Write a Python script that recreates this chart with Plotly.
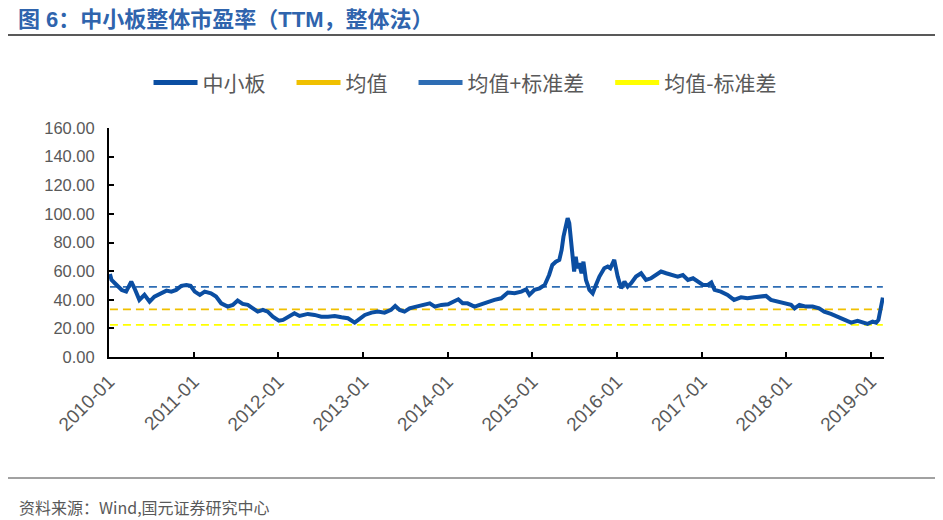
import plotly.graph_objects as go

# ---- data ----
dates = [
    "2010-01-05", "2010-01-12", "2010-02-03", "2010-02-25", "2010-03-16", "2010-04-07",
    "2010-04-21", "2010-05-12", "2010-06-03", "2010-06-25", "2010-07-16", "2010-08-15",
    "2010-09-06", "2010-09-27", "2010-10-18", "2010-11-09", "2010-12-01", "2010-12-19",
    "2011-01-06", "2011-01-28", "2011-02-18", "2011-03-17", "2011-04-08", "2011-04-30",
    "2011-05-28", "2011-06-19", "2011-07-10", "2011-08-01", "2011-08-23", "2011-09-14",
    "2011-10-05", "2011-10-27", "2011-11-17", "2011-12-09", "2012-01-04", "2012-01-22",
    "2012-02-13", "2012-03-11", "2012-04-02", "2012-04-24", "2012-05-08", "2012-06-06",
    "2012-07-05", "2012-08-03", "2012-09-01", "2012-09-30", "2012-10-28", "2012-11-26",
    "2012-12-18", "2013-01-09", "2013-02-07", "2013-03-06", "2013-04-04", "2013-05-02",
    "2013-05-20", "2013-06-08", "2013-06-29", "2013-07-21", "2013-08-19", "2013-09-17",
    "2013-10-16", "2013-11-07", "2013-12-05", "2014-01-03", "2014-01-25", "2014-02-16",
    "2014-03-07", "2014-03-28", "2014-04-27", "2014-05-26", "2014-06-23", "2014-07-22",
    "2014-08-20", "2014-09-18", "2014-10-17", "2014-11-15", "2014-12-06", "2014-12-20",
    "2015-01-11", "2015-02-02", "2015-02-24", "2015-03-15", "2015-03-29", "2015-04-13",
    "2015-04-28", "2015-05-08", "2015-05-16", "2015-05-27", "2015-06-03", "2015-06-10",
    "2015-06-17", "2015-06-24", "2015-07-01", "2015-07-08", "2015-07-15", "2015-07-22",
    "2015-08-02", "2015-08-10", "2015-08-21", "2015-09-05", "2015-09-19", "2015-10-03",
    "2015-10-18", "2015-11-08", "2015-11-23", "2015-12-04", "2015-12-21", "2016-01-05",
    "2016-01-20", "2016-02-03", "2016-02-17", "2016-03-03", "2016-03-24", "2016-04-15",
    "2016-05-06", "2016-05-28", "2016-06-19", "2016-07-10", "2016-08-01", "2016-08-23",
    "2016-09-20", "2016-10-12", "2016-11-03", "2016-11-25", "2016-12-16", "2017-01-07",
    "2017-01-28", "2017-02-12", "2017-02-26", "2017-03-25", "2017-04-23", "2017-05-21",
    "2017-06-20", "2017-07-18", "2017-08-16", "2017-09-14", "2017-10-06", "2017-10-27",
    "2017-11-25", "2017-12-24", "2018-01-22", "2018-02-06", "2018-02-27", "2018-03-27",
    "2018-04-25", "2018-05-23", "2018-06-14", "2018-07-13", "2018-08-10", "2018-09-08",
    "2018-10-08", "2018-11-05", "2018-11-27", "2018-12-18", "2019-01-09", "2019-01-24",
    "2019-02-03", "2019-02-10", "2019-02-17", "2019-02-22",
]
pe_values = [
    58.0, 53.8, 50.3, 46.8, 45.7, 52.7,
    48.0, 39.9, 43.4, 38.7, 42.2, 44.5,
    46.4, 45.7, 46.9, 49.7, 50.3, 49.7,
    45.7, 43.4, 45.7, 44.5, 42.2, 37.5,
    35.2, 36.4, 39.4, 37.1, 36.4, 34.0,
    31.7, 32.9, 31.7, 28.2, 25.4, 25.9,
    28.2, 30.6, 28.7, 29.4, 30.1, 29.4,
    28.2, 28.2, 28.7, 27.8, 27.1, 24.0,
    27.1, 29.4, 31.0, 31.7, 31.0, 32.9,
    35.7, 32.9, 31.7, 34.0, 35.2, 36.4,
    37.5, 35.2, 36.4, 36.9, 38.3, 40.3,
    37.5, 37.5, 35.2, 36.9, 38.3, 39.9,
    41.0, 45.0, 44.5, 45.7, 47.3, 43.4,
    46.9, 48.0, 50.3, 57.3, 64.3, 66.6,
    67.8, 74.8, 84.1, 93.5, 97.0, 93.5,
    81.8, 67.8, 59.7, 70.1, 62.0, 65.5,
    58.5, 66.6, 53.8, 46.9, 44.5, 50.3,
    56.2, 62.0, 63.2, 62.0, 67.8, 56.2,
    48.0, 52.7, 49.2, 51.5, 56.2, 58.5,
    53.8, 55.0, 57.3, 59.7, 58.5, 57.3,
    56.2, 57.3, 53.8, 55.0, 52.7, 50.3,
    50.3, 52.0, 46.9, 45.7, 43.4, 39.9,
    41.7, 41.0, 41.7, 42.2, 42.7, 39.9,
    38.7, 38.0, 36.4, 34.0, 36.4, 35.2,
    35.2, 34.0, 31.7, 30.1, 28.2, 26.4,
    24.0, 25.2, 24.0, 23.1, 24.7, 24.0,
    25.9, 32.9, 39.9, 41.5,
]
mean_value = 33.3
mean_plus_std = 49.0
mean_minus_std = 22.4

series_names = ["中小板", "均值", "均值+标准差", "均值-标准差"]
series_colors = ["#0b4ea2", "#f0c000", "#2e6db4", "#ffff00"]

tick_dates = ["2010-01-01", "2011-01-01", "2012-01-01", "2013-01-01", "2014-01-01",
              "2015-01-01", "2016-01-01", "2017-01-01", "2018-01-01", "2019-01-01"]
tick_labels = ["2010-01", "2011-01", "2012-01", "2013-01", "2014-01",
               "2015-01", "2016-01", "2017-01", "2018-01", "2019-01"]
y_ticks = [0, 20, 40, 60, 80, 100, 120, 140, 160]

title_text = "图 6：中小板整体市盈率（TTM，整体法）"
source_text = "资料来源：Wind,国元证券研究中心"

FONT = "Liberation Sans, Arial, Noto Sans CJK SC, sans-serif"
CJK = "Noto Sans CJK SC, Liberation Sans, sans-serif"
GRAY = "#595959"

# page body has an 8px margin: the figure is drawn 8px smaller and offset accordingly
OFF = 8
W, H = 943 - OFF, 520 - OFF

fig = go.Figure()

span = [dates[0], dates[-1]]
fig.add_trace(go.Scatter(x=span, y=[mean_plus_std, mean_plus_std], mode="lines",
                         line=dict(color=series_colors[2], width=1.8, dash="8px,5px"),
                         showlegend=False, hoverinfo="skip"))
fig.add_trace(go.Scatter(x=span, y=[mean_value, mean_value], mode="lines",
                         line=dict(color=series_colors[1], width=1.8, dash="8px,5px"),
                         showlegend=False, hoverinfo="skip"))
fig.add_trace(go.Scatter(x=span, y=[mean_minus_std, mean_minus_std], mode="lines",
                         line=dict(color=series_colors[3], width=1.8, dash="8px,5px"),
                         showlegend=False, hoverinfo="skip"))
fig.add_trace(go.Scatter(x=dates, y=pe_values, mode="lines",
                         line=dict(color=series_colors[0], width=4),
                         showlegend=False))

for name, color in zip(series_names, series_colors):
    fig.add_trace(go.Scatter(x=[None], y=[None], mode="lines", name=name + "\u3000",
                             line=dict(color=color, width=5), showlegend=True))

fig.update_layout(
    width=W, height=H,
    margin=dict(l=109 - OFF, r=59, t=128 - OFF, b=163),
    paper_bgcolor="white", plot_bgcolor="white",
    font=dict(family=FONT, color=GRAY, size=17),
    title=dict(text="<b>" + title_text + "</b>", x=(18 - OFF) / W, xanchor="left",
               xref="container", yref="container", y=1 - (19.5 - OFF) / H, yanchor="middle",
               font=dict(family="Liberation Sans, Noto Sans CJK SC, sans-serif", size=22,
                         color="#2f64ad")),
    legend=dict(orientation="h", x=0.051, xanchor="left", y=1.197, yanchor="middle",
                font=dict(family=CJK, size=21, color=GRAY), bgcolor="rgba(0,0,0,0)",
                traceorder="normal", itemwidth=44),
    xaxis=dict(type="date", range=["2010-01-01", "2019-02-27"],
               tickvals=tick_dates, ticktext=tick_labels, tickangle=-45,
               showline=True, linecolor="black", linewidth=2,
               ticks="inside", ticklen=5, tickwidth=2, tickcolor="black",
               showgrid=False, zeroline=False, ticklabelstandoff=4,
               tickfont=dict(family=FONT, size=19, color=GRAY)),
    yaxis=dict(range=[0, 160], tickvals=y_ticks, tickformat=".2f",
               showline=True, linecolor="black", linewidth=2,
               ticks="inside", ticklen=5, tickwidth=2, tickcolor="black",
               showgrid=False, zeroline=False, ticklabelstandoff=9,
               tickfont=dict(family=FONT, size=16.5, color=GRAY)),
    shapes=[
        dict(type="line", xref="paper", yref="paper", x0=-0.137, x1=1.073,
             y0=(357 - 35) / 229, y1=(357 - 35) / 229, line=dict(color="#222222", width=1.5)),
        dict(type="line", xref="paper", yref="paper", x0=-0.141, x1=1.076,
             y0=(357 - 478) / 229, y1=(357 - 478) / 229, line=dict(color="#444444", width=1)),
    ],
    annotations=[
        dict(text=source_text, xref="paper", yref="paper", x=(17 - 109) / 775,
             y=(357 - 507) / 229, xanchor="left", yanchor="middle", showarrow=False,
             font=dict(family=CJK, size=16, color=GRAY)),
    ],
)

fig.write_html("out.html")
